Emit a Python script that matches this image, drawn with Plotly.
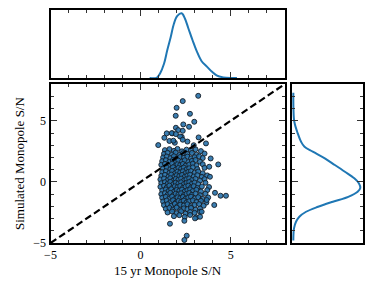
import plotly.graph_objects as go

# ---- scatter data ----
sn_15yr = [
    1.35, 1.6, 1.85, 2.05, 2.3, 2.55, 2.8, 3.05, 3.35,
    1.3, 1.5, 1.75, 1.95, 2.15, 2.35, 2.6, 2.85, 3.1, 3.55,
    1.25, 1.45, 1.65, 1.85, 2.0, 2.2, 2.4, 2.6, 2.8, 3.0, 3.25, 3.45,
    1.2, 1.4, 1.6, 1.8, 1.95, 2.1, 2.3, 2.45, 2.65, 2.85, 3.05, 3.3,
    1.15, 1.35, 1.55, 1.75, 1.9, 2.05, 2.2, 2.35, 2.5, 2.7, 2.9, 3.1, 3.45,
    1.25, 1.45, 1.65, 1.8, 1.95, 2.1, 2.25, 2.4, 2.55, 2.7, 2.9, 3.15, 3.55,
    1.2, 1.4, 1.6, 1.75, 1.9, 2.05, 2.2, 2.35, 2.5, 2.65, 2.8, 3.0, 3.2, 3.45,
    1.15, 1.35, 1.55, 1.7, 1.85, 2.0, 2.15, 2.3, 2.45, 2.6, 2.75, 2.95, 3.15, 3.4, 3.7,
    1.1, 1.3, 1.5, 1.65, 1.8, 1.95, 2.1, 2.25, 2.4, 2.55, 2.7, 2.85, 3.05, 3.3, 3.55,
    1.15, 1.35, 1.5, 1.65, 1.8, 1.95, 2.1, 2.25, 2.4, 2.55, 2.7, 2.85, 3.0, 3.2, 3.6,
    1.1, 1.3, 1.45, 1.6, 1.75, 1.9, 2.05, 2.2, 2.35, 2.5, 2.65, 2.8, 2.95, 3.15, 3.4, 3.8,
    1.2, 1.4, 1.55, 1.7, 1.85, 2.0, 2.15, 2.3, 2.45, 2.6, 2.75, 2.9, 3.1, 3.35, 3.7,
    1.15, 1.35, 1.5, 1.65, 1.8, 1.95, 2.1, 2.25, 2.4, 2.55, 2.7, 2.85, 3.05, 3.3, 3.6,
    1.2, 1.4, 1.6, 1.75, 1.9, 2.05, 2.2, 2.35, 2.5, 2.65, 2.8, 3.0, 3.2, 3.45, 3.75,
    1.25, 1.45, 1.65, 1.8, 1.95, 2.1, 2.25, 2.4, 2.55, 2.7, 2.9, 3.1, 3.35, 3.65,
    1.3, 1.5, 1.7, 1.9, 2.05, 2.2, 2.4, 2.6, 2.8, 3.0, 3.25, 3.5,
    1.4, 1.6, 1.8, 2.0, 2.2, 2.4, 2.6, 2.8, 3.05, 3.3,
    1.5, 1.75, 2.0, 2.25, 2.5, 2.75, 3.0, 3.3,
    1.85, 2.15, 2.45, 2.75, 3.1,
    3.20, 2.34, 2.00, 1.95, 2.74, 2.98, 2.37, 2.69, 1.96, 0.98, 1.32, 1.45,
    1.76, 2.09, 2.28, 3.22, 3.63, 4.31, 3.89, 3.81, 4.74, 4.44, 4.09, 4.13,
    3.85, 1.63, 2.43, 2.56, 2.43, 3.30, 3.02, 3.67, 1.90, 2.60, 2.95, 1.60,
    2.19, 1.82, 2.34, 2.34, 1.73, 1.96, 3.39,
]
sn_sim = [
    2.60, 2.68, 2.54, 2.70, 2.50, 2.64, 2.57, 2.67, 2.52,
    2.30, 2.38, 2.24, 2.40, 2.20, 2.34, 2.27, 2.37, 2.22, 2.32,
    2.00, 2.08, 1.94, 2.10, 1.90, 2.04, 1.97, 2.07, 1.92, 2.02, 2.09, 1.95,
    1.70, 1.78, 1.64, 1.80, 1.60, 1.74, 1.67, 1.77, 1.62, 1.72, 1.79, 1.65,
    1.40, 1.48, 1.34, 1.50, 1.30, 1.44, 1.37, 1.47, 1.32, 1.42, 1.49, 1.35, 1.45,
    1.10, 1.18, 1.04, 1.20, 1.00, 1.14, 1.07, 1.17, 1.02, 1.12, 1.19, 1.05, 1.15,
    0.80, 0.88, 0.74, 0.90, 0.70, 0.84, 0.77, 0.87, 0.72, 0.82, 0.89, 0.75, 0.85, 0.71,
    0.50, 0.58, 0.44, 0.60, 0.40, 0.54, 0.47, 0.57, 0.42, 0.52, 0.59, 0.45, 0.55, 0.41, 0.53,
    0.20, 0.28, 0.14, 0.30, 0.10, 0.24, 0.17, 0.27, 0.12, 0.22, 0.29, 0.15, 0.25, 0.11, 0.23,
    -0.10, -0.02, -0.16, 0.00, -0.20, -0.06, -0.13, -0.03, -0.18, -0.08, -0.01, -0.15, -0.05, -0.19, -0.07,
    -0.40, -0.32, -0.46, -0.30, -0.50, -0.36, -0.43, -0.33, -0.48, -0.38, -0.31, -0.45, -0.35, -0.49, -0.37, -0.42,
    -0.70, -0.62, -0.76, -0.60, -0.80, -0.66, -0.73, -0.63, -0.78, -0.68, -0.61, -0.75, -0.65, -0.79, -0.67,
    -1.00, -0.92, -1.06, -0.90, -1.10, -0.96, -1.03, -0.93, -1.08, -0.98, -0.91, -1.05, -0.95, -1.09, -0.97,
    -1.30, -1.22, -1.36, -1.20, -1.40, -1.26, -1.33, -1.23, -1.38, -1.28, -1.21, -1.35, -1.25, -1.39, -1.27,
    -1.60, -1.52, -1.66, -1.50, -1.70, -1.56, -1.63, -1.53, -1.68, -1.58, -1.51, -1.65, -1.55, -1.69,
    -1.90, -1.82, -1.96, -1.80, -2.00, -1.86, -1.93, -1.83, -1.98, -1.88, -1.81, -1.95,
    -2.20, -2.12, -2.26, -2.10, -2.30, -2.16, -2.23, -2.13, -2.28, -2.18,
    -2.50, -2.42, -2.56, -2.40, -2.60, -2.46, -2.53, -2.43,
    -2.80, -2.72, -2.86, -2.70, -2.90,
    7.04, 6.61, 6.06, 5.41, 5.57, 4.92, 4.70, 4.51, 4.43, 3.01, 3.61, 3.97,
    3.97, 4.24, 3.69, 3.64, 3.15, 1.43, 1.92, 1.24, -1.13, -1.13, -1.89, -0.89,
    0.42, -3.42, -3.18, -4.40, -4.75, -2.85, -2.98, -1.48, 3.20, 3.30, 3.00, 3.35,
    3.72, 3.37, 3.45, 4.18, 3.99, 3.91, -2.44,
]

# ---- marginal density curves (peak-normalised) ----
kde_x_grid = [0.5, 0.89, 1.08, 1.30, 1.48, 1.67, 1.85, 2.04, 2.28, 2.46, 2.65,
              2.89, 3.11, 3.39, 3.67, 3.95, 4.22, 4.59, 5.0, 5.35]
kde_x_dens = [0.0, 0.003, 0.07, 0.22, 0.43, 0.63, 0.84, 0.96, 1.0, 0.92, 0.77,
              0.58, 0.42, 0.26, 0.18, 0.10, 0.04, 0.01, 0.0, 0.0]
kde_y_grid = [7.3, 6.0, 4.92, 3.97, 3.28, 2.87, 2.47, 1.92, 1.38, 0.83, 0.29,
              -0.12, -0.48, -0.81, -1.22, -1.62, -2.03, -2.44, -2.85, -3.26,
              -3.80, -4.3, -4.8]
kde_y_dens = [0.0, 0.002, 0.015, 0.066, 0.116, 0.167, 0.29, 0.47, 0.62, 0.77, 0.91,
              0.98, 1.0, 0.96, 0.82, 0.59, 0.37, 0.19, 0.09, 0.04,
              0.01, 0.002, 0.0]

diag = [-5, 8]

axis_range = [-5, 8]
major_ticks = [-5, 0, 5]

FONT = "Liberation Serif, Times New Roman, serif"
BLUE = "#1f77b4"

fig = go.Figure()
fig.add_trace(go.Scatter(
    x=sn_15yr, y=sn_sim, mode="markers", xaxis="x", yaxis="y",
    marker=dict(size=5, color="rgba(38,112,168,0.9)",
                line=dict(color="#151d26", width=0.9)),
    showlegend=False, hoverinfo="skip"))
fig.add_trace(go.Scatter(
    x=diag, y=diag, mode="lines", xaxis="x", yaxis="y",
    line=dict(color="black", width=2.2, dash="7px,3.5px"),
    showlegend=False, hoverinfo="skip"))
fig.add_trace(go.Scatter(
    x=kde_x_grid, y=kde_x_dens, mode="lines", xaxis="x2", yaxis="y2",
    line=dict(color=BLUE, width=2, shape="spline"),
    showlegend=False, hoverinfo="skip"))
fig.add_trace(go.Scatter(
    x=kde_y_dens, y=kde_y_grid, mode="lines", xaxis="x3", yaxis="y3",
    line=dict(color=BLUE, width=2, shape="spline"),
    showlegend=False, hoverinfo="skip"))

def box_axis(**kw):
    base = dict(showline=True, linewidth=2, linecolor="black", mirror="allticks",
                showgrid=False, zeroline=False, automargin=False,
                tickfont=dict(family=FONT, size=12, color="black"))
    base.update(kw)
    return base

def data_axis(labels, **kw):
    d = box_axis(range=axis_range, tickvals=major_ticks, ticks="inside",
                 ticklen=6, tickwidth=1, tickcolor="#333",
                 minor=dict(dtick=1, tick0=0, ticks="inside", ticklen=3,
                            tickwidth=1, tickcolor="#333"),
                 showticklabels=labels)
    d.update(kw)
    return d

x_main = [0.1354, 0.7633]
y_main = [0.159, 0.709]

fig.update_layout(
    width=373, height=289,
    margin=dict(l=0, r=0, t=0, b=0),
    paper_bgcolor="white", plot_bgcolor="white",
    font=dict(family=FONT, color="black"),
    xaxis=data_axis(True, domain=x_main, anchor="y",
                    title=dict(text="15 yr Monopole S/N",
                               font=dict(family=FONT, size=13), standoff=4)),
    yaxis=data_axis(True, domain=y_main, anchor="x",
                    title=dict(text="Simulated Monopole S/N",
                               font=dict(family=FONT, size=13), standoff=6)),
    xaxis2=data_axis(False, domain=x_main, anchor="y2"),
    yaxis2=box_axis(domain=[0.730, 0.965], anchor="x2", range=[0, 1.05],
                    showticklabels=False, ticks=""),
    xaxis3=box_axis(domain=[0.7828, 0.9732], anchor="y3", range=[-0.02, 1.04],
                    showticklabels=False, ticks=""),
    yaxis3=data_axis(False, domain=y_main, anchor="x3"),
)

fig.write_html("out.html",
               config={"displayModeBar": False},
               post_script="document.body.style.margin='0px';"
                           "document.body.style.overflow='hidden';")
